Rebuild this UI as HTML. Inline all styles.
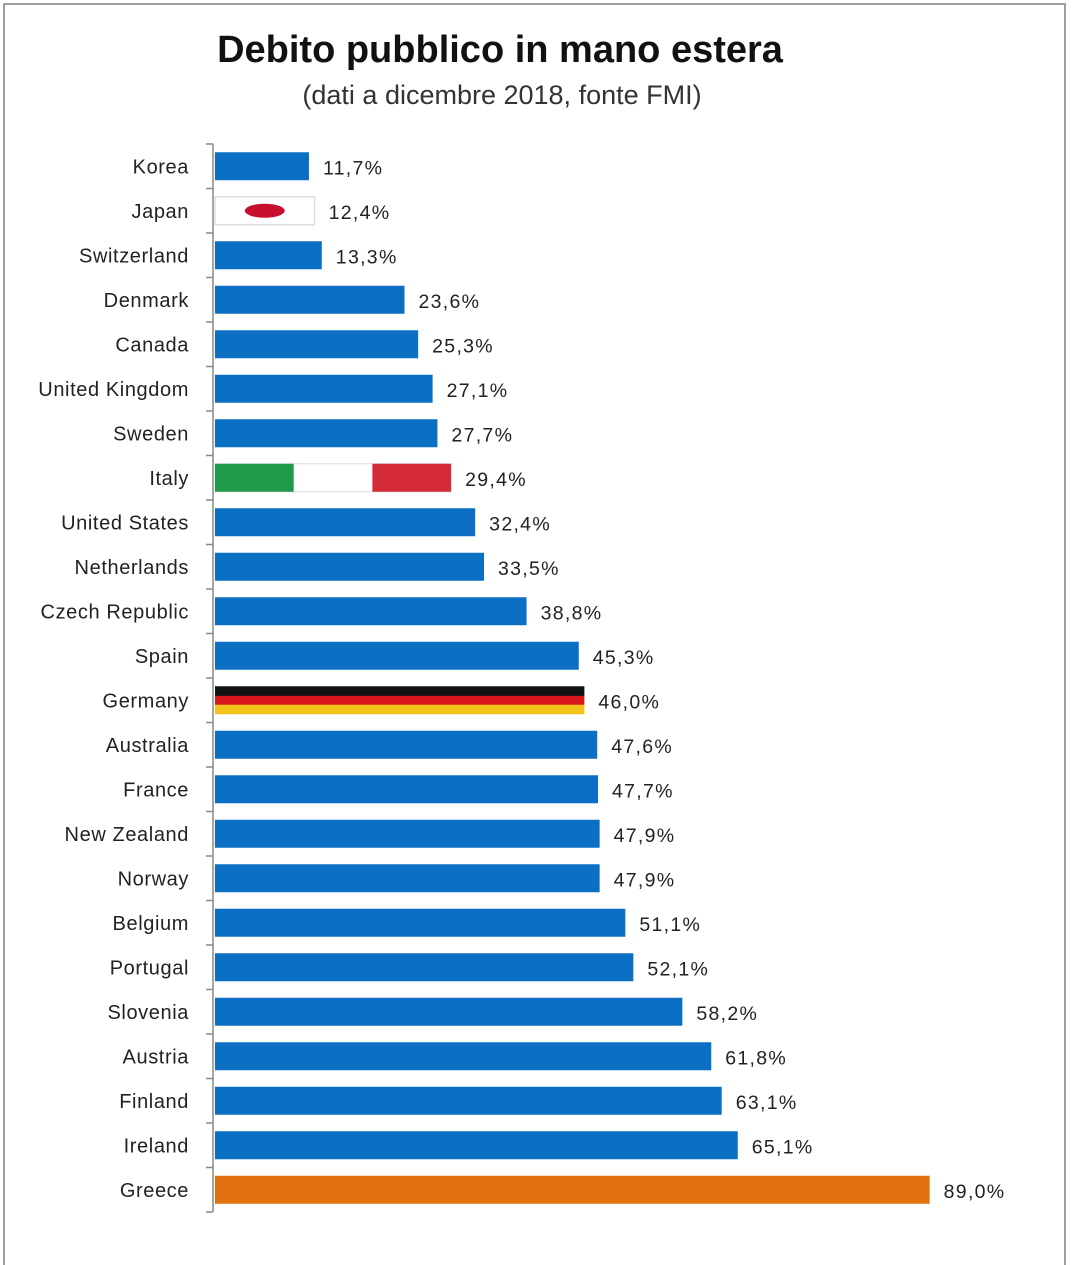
<!DOCTYPE html>
<html><head><meta charset="utf-8"><style>
html,body{margin:0;padding:0;background:#fff;}
body{width:1080px;height:1255px;position:relative;overflow:hidden;font-family:"Liberation Sans",sans-serif;}
#frame{position:absolute;left:3px;top:3px;width:1059px;height:1260px;border:2px solid #a0a0a0;border-bottom:none;}
</style></head><body>
<div id="frame"></div>
<svg id="chart" width="1080" height="1255" style="position:absolute;left:0;top:0">
<defs>
<linearGradient id="de" x1="0" y1="0" x2="0" y2="1">
<stop offset="0" stop-color="#111"/><stop offset="0.33" stop-color="#111"/>
<stop offset="0.36" stop-color="#d8161a"/><stop offset="0.64" stop-color="#d8161a"/>
<stop offset="0.68" stop-color="#f3c21a"/><stop offset="1" stop-color="#f3c21a"/>
</linearGradient>
</defs>
<text x="500" y="62" text-anchor="middle" font-size="38" font-weight="bold" fill="#111">Debito pubblico in mano estera</text>
<text x="502" y="104" text-anchor="middle" font-size="27" fill="#333">(dati a dicembre 2018, fonte FMI)</text>
<g id="plot"></g>
</svg>
<script>
const categories=["Korea","Japan","Switzerland","Denmark","Canada","United Kingdom","Sweden","Italy","United States","Netherlands","Czech Republic","Spain","Germany","Australia","France","New Zealand","Norway","Belgium","Portugal","Slovenia","Austria","Finland","Ireland","Greece"];
const values=[11.7,12.4,13.3,23.6,25.3,27.1,27.7,29.4,32.4,33.5,38.8,45.3,46.0,47.6,47.7,47.9,47.9,51.1,52.1,58.2,61.8,63.1,65.1,89.0];
const valueLabels=["11,7%","12,4%","13,3%","23,6%","25,3%","27,1%","27,7%","29,4%","32,4%","33,5%","38,8%","45,3%","46,0%","47,6%","47,7%","47,9%","47,9%","51,1%","52,1%","58,2%","61,8%","63,1%","65,1%","89,0%"];

const NS="http://www.w3.org/2000/svg";
const plotG=document.getElementById('plot');
const x0=215, pxPer=8.03, plotTop=144, step=(1212-144)/categories.length, bh=28;
const xs=v=>x0+v*pxPer;
const yc=i=>plotTop+step*(i+0.5);
function mk(t,a){const e=document.createElementNS(NS,t);for(const k in a)e.setAttribute(k,a[k]);plotG.appendChild(e);return e;}
const ax=mk('line',{x1:213,y1:plotTop,x2:213,y2:plotTop+step*categories.length,stroke:'#888','stroke-width':1.5});


for(let i=0;i<=categories.length;i++){
  const y=plotTop+step*i;
  const t=mk('line',{x1:206,y1:y,x2:213,y2:y,stroke:'#888','stroke-width':1.5});
  
  
}
categories.forEach((c,i)=>{
  const y=yc(i), w=xs(values[i])-x0, by=y-bh/2;
  let fill='#0b70c3';
  if(c==='Greece') fill='#e1700f';
  if(c==='Germany') fill='url(#de)';
  if(c==='Japan'||c==='Italy') fill='#fff';
  const r=mk('rect',{x:x0,y:by,width:w,height:bh,fill:fill});
  
  
  if(c==='Japan'){
    r.setAttribute('stroke','#ddd');r.setAttribute('stroke-width','1.5');
    const e=mk('ellipse',{cx:x0+w*0.5,cy:y,rx:20,ry:7,fill:'#c8102e'});
    
    
  }
  if(c==='Italy'){
    r.setAttribute('stroke','#ddd');r.setAttribute('stroke-width','1');
    const a=mk('rect',{x:x0,y:by,width:w/3,height:bh,fill:'#1e9a48'});
    
    
    const b=mk('rect',{x:x0+2*w/3,y:by,width:w/3,height:bh,fill:'#d52b36'});
    
    
  }
  const l=mk('text',{x:189,y:y+7,'text-anchor':'end','font-size':20,'letter-spacing':0.6,fill:'#222'});
  l.textContent=c;
  
  
  const v=mk('text',{x:xs(values[i])+14,y:y+8,'font-size':19.5,'letter-spacing':1.3,fill:'#222'});
  v.textContent=valueLabels[i];
  
  
});
</script>
</body></html>
